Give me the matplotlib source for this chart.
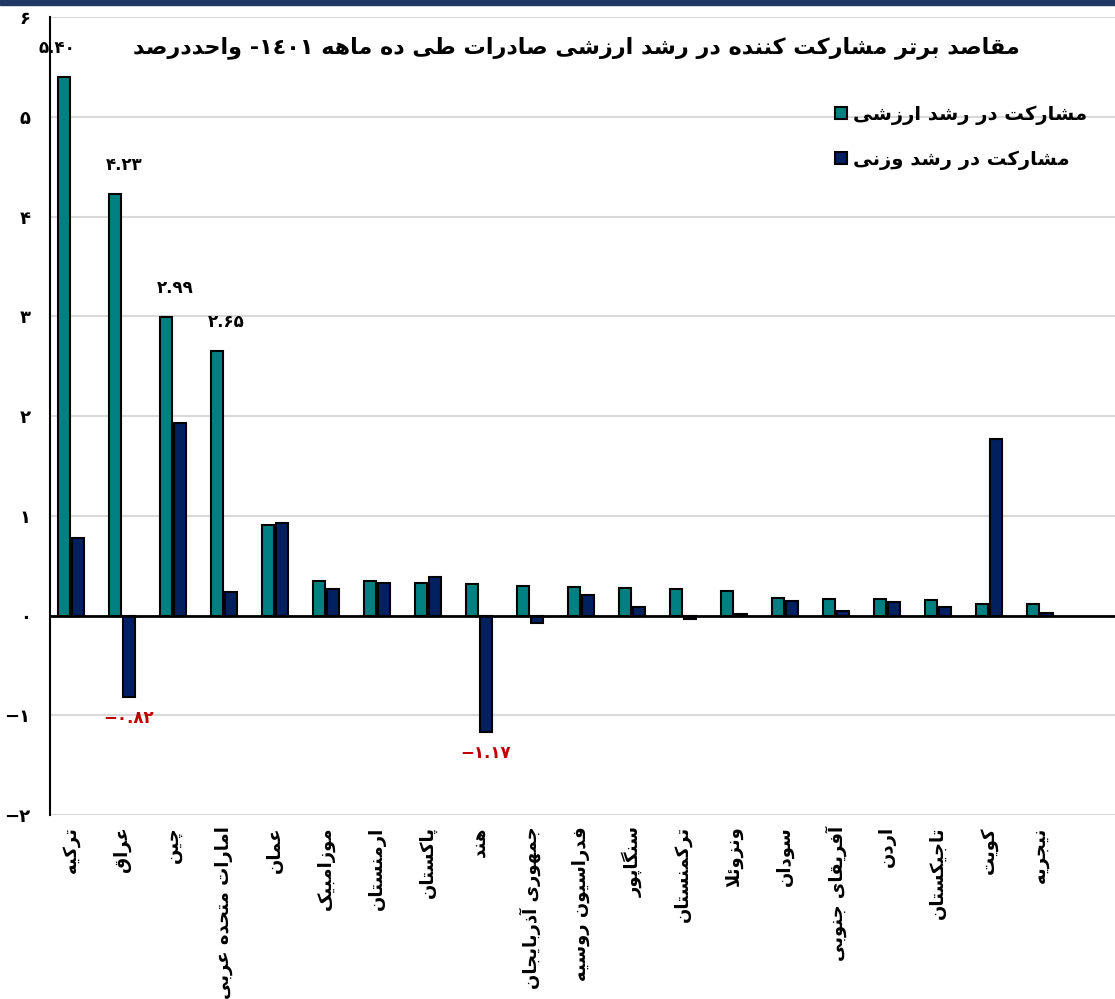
import re
import numpy as np
import matplotlib
matplotlib.use('Agg')
import matplotlib.pyplot as plt
from matplotlib.ticker import FuncFormatter
from matplotlib.patches import Rectangle

countries = ['ترکیه', 'عراق', 'چین', 'امارات متحده عربی', 'عمان', 'موزامبیک',
             'ارمنستان', 'پاکستان', 'هند', 'جمهوری آذربایجان', 'فدراسیون روسیه',
             'سنگاپور', 'ترکمنستان', 'ونزوئلا', 'سودان', 'آفریقای جنوبی', 'اردن',
             'تاجیکستان', 'کویت', 'نیجریه']
value_share = [5.40, 4.23, 2.99, 2.65, 0.91, 0.35, 0.35, 0.33, 0.32, 0.30,
               0.29, 0.28, 0.27, 0.25, 0.18, 0.17, 0.17, 0.16, 0.12, 0.12]
weight_share = [0.78, -0.82, 1.93, 0.24, 0.93, 0.27, 0.33, 0.39, -1.17, -0.07,
                0.21, 0.09, -0.03, 0.02, 0.15, 0.05, 0.14, 0.09, 1.77, 0.03]
labeled_value = [0, 1, 2, 3]
labeled_weight = [1, 8]
title = 'مقاصد برتر مشارکت کننده در رشد ارزشی صادرات طی ده ماهه ١٤٠١- واحددرصد'
series_names = ['مشارکت در رشد ارزشی', 'مشارکت در رشد وزنی']

# minimal arabic/persian shaping (isolated, final, initial, medial)
FORMS = {
    'ا': (0xFE8D, 0xFE8E), 'آ': (0xFE81, 0xFE82), 'د': (0xFEA9, 0xFEAA),
    'ذ': (0xFEAB, 0xFEAC), 'ر': (0xFEAD, 0xFEAE), 'ز': (0xFEAF, 0xFEB0),
    'ژ': (0xFB8A, 0xFB8B), 'و': (0xFEED, 0xFEEE),
    'ب': (0xFE8F, 0xFE90, 0xFE91, 0xFE92), 'پ': (0xFB56, 0xFB57, 0xFB58, 0xFB59),
    'ت': (0xFE95, 0xFE96, 0xFE97, 0xFE98), 'ث': (0xFE99, 0xFE9A, 0xFE9B, 0xFE9C),
    'ج': (0xFE9D, 0xFE9E, 0xFE9F, 0xFEA0), 'چ': (0xFB7A, 0xFB7B, 0xFB7C, 0xFB7D),
    'ح': (0xFEA1, 0xFEA2, 0xFEA3, 0xFEA4), 'خ': (0xFEA5, 0xFEA6, 0xFEA7, 0xFEA8),
    'س': (0xFEB1, 0xFEB2, 0xFEB3, 0xFEB4), 'ش': (0xFEB5, 0xFEB6, 0xFEB7, 0xFEB8),
    'ص': (0xFEB9, 0xFEBA, 0xFEBB, 0xFEBC), 'ض': (0xFEBD, 0xFEBE, 0xFEBF, 0xFEC0),
    'ط': (0xFEC1, 0xFEC2, 0xFEC3, 0xFEC4), 'ظ': (0xFEC5, 0xFEC6, 0xFEC7, 0xFEC8),
    'ع': (0xFEC9, 0xFECA, 0xFECB, 0xFECC), 'غ': (0xFECD, 0xFECE, 0xFECF, 0xFED0),
    'ف': (0xFED1, 0xFED2, 0xFED3, 0xFED4), 'ق': (0xFED5, 0xFED6, 0xFED7, 0xFED8),
    'ک': (0xFB8E, 0xFB8F, 0xFB90, 0xFB91), 'گ': (0xFB92, 0xFB93, 0xFB94, 0xFB95),
    'ل': (0xFEDD, 0xFEDE, 0xFEDF, 0xFEE0), 'م': (0xFEE1, 0xFEE2, 0xFEE3, 0xFEE4),
    'ن': (0xFEE5, 0xFEE6, 0xFEE7, 0xFEE8), 'ه': (0xFEE9, 0xFEEA, 0xFEEB, 0xFEEC),
    'ی': (0xFBFC, 0xFBFD, 0xFBFE, 0xFBFF), 'ئ': (0xFE89, 0xFE8A, 0xFE8B, 0xFE8C),
}


def shape(s):
    out = []
    i = 0
    n = len(s)
    while i < n:
        c = s[i]
        if c not in FORMS:
            out.append(c)
            i += 1
            continue
        prev = s[i - 1] if i > 0 else ''
        joins_prev = prev in FORMS and len(FORMS[prev]) == 4
        nxt = s[i + 1] if i + 1 < n else ''
        if c == 'ل' and nxt in ('ا', 'آ'):
            lig = (0xFEFB, 0xFEFC) if nxt == 'ا' else (0xFEF5, 0xFEF6)
            out.append(chr(lig[1] if joins_prev else lig[0]))
            i += 2
            continue
        f = FORMS[c]
        joins_next = len(f) == 4 and nxt in FORMS
        if joins_prev and joins_next:
            g = f[3]
        elif joins_prev:
            g = f[1]
        elif joins_next:
            g = f[2]
        else:
            g = f[0]
        out.append(chr(g))
        i += 1
    rev = ''.join(out)[::-1]
    return re.sub(r'[0-9\u06F0-\u06F9\u0660-\u0669.]+', lambda m: m.group()[::-1], rev)


def fa_num(v, fmt='{:.2f}'):
    s = fmt.format(abs(v)).translate(str.maketrans('0123456789', '۰۱۲۳۴۵۶۷۸۹'))
    return ('\u2212' if v < 0 else '') + s


plt.rcParams['font.family'] = ['DejaVu Sans']
plt.rcParams['font.weight'] = 'bold'

green = '#008080'
navy = '#002060'

fig = plt.figure(figsize=(11.15, 9.99), dpi=100)
ax = fig.add_axes([0.045, 0.184, 0.955, 0.799])
fig.patches.append(Rectangle((0, 0.995), 1, 0.005, transform=fig.transFigure,
                             color='#1F3864', zorder=10))

x = np.arange(len(countries))
w = 0.23
off = 0.135
ax.bar(x - off, value_share, w, color=green, edgecolor='black', linewidth=1.5,
       label=shape(series_names[0]), zorder=3)
ax.bar(x + off, weight_share, w, color=navy, edgecolor='black', linewidth=1.5,
       label=shape(series_names[1]), zorder=3)

for i in labeled_value:
    dx = -0.28 if i == 0 else 0.05
    ax.text(x[i] + dx, value_share[i] + 0.2, fa_num(value_share[i]), ha='center',
            va='bottom', fontsize=12, fontweight='bold', color='black')
for i in labeled_weight:
    ax.text(x[i] + off, weight_share[i] - 0.12, fa_num(weight_share[i]), ha='center',
            va='top', fontsize=12, fontweight='bold', color='#C00000')

ax.set_xlim(-0.41, 20.47)
ax.set_ylim(-2, 6)
ax.set_yticks(range(-2, 7))
ax.yaxis.set_major_formatter(FuncFormatter(lambda v, p: fa_num(v, '{:.0f}')))
ax.grid(axis='y', color='#D9D9D9', linewidth=1.5, zorder=0)
ax.axhline(0, color='black', linewidth=2, zorder=4)
ax.set_xticks(x)
ax.set_xticklabels([shape(c) for c in countries], rotation=90, fontsize=13,
                   fontweight='bold')
ax.tick_params(axis='x', length=0, pad=8)
ax.tick_params(axis='y', length=0, pad=14, labelsize=13)
for sp in ['top', 'right', 'bottom']:
    ax.spines[sp].set_visible(False)
ax.spines['left'].set_linewidth(1.5)

fig.text(0.517, 0.952, shape(title), ha='center', va='center', fontsize=16,
         fontweight='bold')
leg = ax.legend(loc='upper right', bbox_to_anchor=(0.99, 0.912), frameon=False,
                fontsize=14, handlelength=0.6, handleheight=0.6,
                handletextpad=0.3, labelspacing=1.3)

fig.savefig('out.png', dpi=100)
